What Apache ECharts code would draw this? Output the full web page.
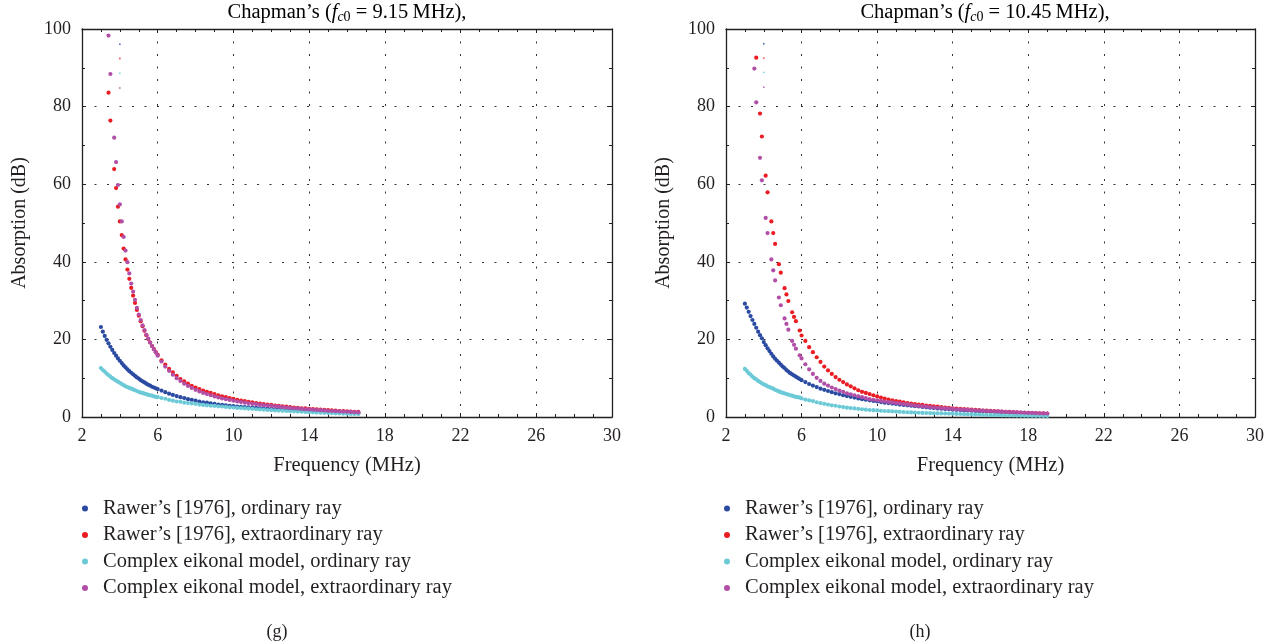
<!DOCTYPE html>
<html><head><meta charset="utf-8">
<script src="https://cdn.jsdelivr.net/npm/echarts@6/dist/echarts.min.js"></script>
<style>html,body{margin:0;padding:0;background:#fff}#c{width:1276px;height:642px}</style>
</head><body><div id="c"></div>
<script>
// ---------- data ----------
const seriesNames = ['Rawer’s [1976], ordinary ray','Rawer’s [1976], extraordinary ray','Complex eikonal model, ordinary ray','Complex eikonal model, extraordinary ray'];
const panelTitlesFc0 = ['9.15', '10.45'];
const panelCaptions = ['(g)', '(h)'];
const xAxisName = 'Frequency (MHz)';
const yAxisName = 'Absorption (dB)';

// panel (g)
const freqG = [3.0,3.1,3.2,3.3,3.4,3.5,3.6,3.7,3.8,3.9,
  4.0,4.1,4.2,4.3,4.4,4.5,4.6,4.7,4.8,4.9,
  5.0,5.1,5.2,5.3,5.4,5.5,5.6,5.7,5.8,5.9,
  6.0,6.2,6.4,6.6,6.8,7.0,7.2,7.4,7.6,7.8,
  8.0,8.2,8.4,8.6,8.8,9.0,9.2,9.4,9.6,9.8,
  10.0,10.2,10.4,10.6,10.8,11.0,11.2,11.4,11.6,11.8,
  12.0,12.2,12.4,12.6,12.8,13.0,13.2,13.4,13.6,13.8,
  14.0,14.2,14.4,14.6,14.8,15.0,15.2,15.4,15.6,15.8,
  16.0,16.2,16.4,16.6];
const rawerOrdG = [23.2,22.0,20.9,19.9,19.0,18.1,17.3,16.5,15.8,15.1,
  14.5,13.9,13.3,12.8,12.3,11.8,11.4,11.0,10.6,10.2,
  9.9,9.5,9.2,8.9,8.6,8.3,8.1,7.8,7.6,7.4,
  7.2,6.8,6.4,6.0,5.7,5.4,5.1,4.9,4.6,4.4,
  4.2,4.0,3.8,3.7,3.5,3.4,3.2,3.1,3.0,2.9,
  2.8,2.7,2.6,2.55,2.5,2.4,2.35,2.3,2.2,2.15,
  2.1,2.0,1.95,1.9,1.85,1.8,1.75,1.7,1.65,1.6,
  1.55,1.5,1.45,1.4,1.35,1.3,1.28,1.25,1.2,1.15,
  1.1,1.05,1.02,1.0];
const rawerExtG = [null,null,null,null,83.6,76.4,null,63.9,59.0,54.2,
  50.4,46.9,43.4,40.6,38.0,35.6,33.3,31.3,29.4,27.6,
  26.1,24.7,23.4,22.2,21.1,20.1,19.2,18.3,17.5,16.7,
  16.0,14.6,13.5,12.4,11.5,10.6,9.8,9.2,8.6,8.0,
  7.6,7.2,6.8,6.5,6.2,5.9,5.6,5.35,5.1,4.85,
  4.65,4.45,4.25,4.1,3.9,3.75,3.6,3.45,3.3,3.2,
  3.1,2.95,2.85,2.75,2.65,2.55,2.45,2.35,2.25,2.2,
  2.1,2.05,1.95,1.9,1.85,1.8,1.7,1.65,1.55,1.5,
  1.45,1.4,1.35,1.3];
const eikOrdG = [12.6,12.1,11.7,11.2,10.8,10.4,10.0,9.7,9.4,9.1,
  8.8,8.5,8.2,7.9,7.7,7.5,7.3,7.1,6.9,6.7,
  6.5,6.3,6.2,6.0,5.9,5.7,5.6,5.5,5.3,5.2,
  5.1,4.9,4.7,4.4,4.2,4.0,3.9,3.7,3.6,3.5,
  3.4,3.2,3.1,3.0,2.9,2.85,2.75,2.7,2.6,2.5,
  2.45,2.35,2.3,2.2,2.15,2.1,2.0,1.95,1.9,1.8,
  1.75,1.7,1.65,1.6,1.55,1.5,1.45,1.4,1.35,1.3,
  1.25,1.2,1.15,1.1,1.07,1.03,1.0,0.95,0.92,0.88,
  0.85,0.8,0.78,0.75];
const eikExtG = [null,null,null,null,98.3,88.4,null,72.0,65.7,59.8,
  54.8,50.4,46.4,42.9,39.9,37.0,34.4,32.3,30.2,28.1,
  26.4,25.0,23.6,22.4,21.2,20.2,19.2,18.3,17.4,16.6,
  15.8,14.3,13.0,11.9,10.9,10.0,9.3,8.6,8.0,7.5,
  7.0,6.6,6.2,5.9,5.6,5.3,5.05,4.8,4.6,4.4,
  4.2,4.0,3.85,3.7,3.55,3.4,3.3,3.15,3.05,2.95,
  2.85,2.75,2.65,2.55,2.45,2.35,2.25,2.2,2.1,2.0,
  1.95,1.9,1.8,1.75,1.7,1.6,1.55,1.5,1.45,1.4,
  1.35,1.3,1.25,1.2];
// tiny stray marks near the top-left of each panel (one per series)
const insetFreqG = [4.0,4.0,4.0,4.0];
const insetValsG = [96.1,92.4,88.6,84.8];

// panel (h)
const freqH = [3.0,3.1,3.2,3.3,3.4,3.5,3.6,3.7,3.8,3.9,
  4.0,4.1,4.2,4.3,4.4,4.5,4.6,4.7,4.8,4.9,
  5.0,5.1,5.2,5.3,5.4,5.5,5.6,5.7,5.8,5.9,
  6.0,6.2,6.4,6.6,6.8,7.0,7.2,7.4,7.6,7.8,
  8.0,8.2,8.4,8.6,8.8,9.0,9.2,9.4,9.6,9.8,
  10.0,10.2,10.4,10.6,10.8,11.0,11.2,11.4,11.6,11.8,
  12.0,12.2,12.4,12.6,12.8,13.0,13.2,13.4,13.6,13.8,
  14.0,14.2,14.4,14.6,14.8,15.0,15.2,15.4,15.6,15.8,
  16.0,16.2,16.4,16.6,16.8,17.0,17.2,17.4,17.6,17.8,
  18.0,18.2,18.4,18.6,18.8,19.0];
const rawerOrdH = [29.2,28.2,27.1,26.0,25.0,24.0,23.0,22.0,21.1,20.3,
  19.3,18.5,17.7,17.0,16.3,15.6,15.0,14.5,14.0,13.5,
  13.0,12.6,12.1,11.7,11.3,11.0,10.7,10.4,10.1,9.8,
  9.5,9.0,8.5,8.1,7.7,7.3,7.0,6.7,6.4,6.1,
  5.9,5.6,5.4,5.2,5.0,4.8,4.6,4.45,4.3,4.15,
  4.0,3.85,3.7,3.6,3.45,3.35,3.2,3.1,3.0,2.9,
  2.8,2.7,2.6,2.5,2.4,2.3,2.2,2.15,2.05,2.0,
  1.9,1.85,1.8,1.7,1.65,1.6,1.55,1.5,1.45,1.4,
  1.35,1.3,1.25,1.2,1.15,1.1,1.07,1.03,1.0,0.97,
  0.94,0.9,0.87,0.84,0.82,0.8];
const rawerExtH = [null,null,null,null,null,null,92.6,null,78.2,72.3,
  null,62.2,57.9,null,50.4,47.4,44.6,null,39.4,37.2,
  null,33.2,31.6,29.9,null,27.0,25.8,24.7,null,22.3,
  21.0,19.6,18.0,16.7,15.4,14.2,13.0,12.0,11.1,10.3,
  9.6,9.0,8.4,7.9,7.4,6.9,6.5,6.2,5.9,5.6,
  5.3,5.0,4.75,4.5,4.3,4.1,3.95,3.8,3.6,3.45,
  3.3,3.2,3.1,2.95,2.85,2.75,2.65,2.55,2.45,2.35,
  2.25,2.18,2.1,2.02,1.95,1.88,1.82,1.75,1.68,1.62,
  1.56,1.5,1.45,1.4,1.35,1.3,1.25,1.2,1.15,1.1,
  1.06,1.02,0.98,0.95,0.92,0.9];
const eikOrdH = [12.4,11.9,11.3,10.9,10.4,10.0,9.7,9.3,9.0,8.7,
  8.4,8.2,7.9,7.7,7.5,7.3,7.0,6.8,6.6,6.4,
  6.2,6.1,5.9,5.8,5.6,5.5,5.3,5.2,5.1,5.0,
  4.8,4.5,4.3,4.1,3.8,3.6,3.4,3.2,3.0,2.9,
  2.7,2.55,2.4,2.3,2.2,2.1,2.0,1.9,1.8,1.75,
  1.7,1.6,1.55,1.5,1.45,1.4,1.33,1.28,1.22,1.18,
  1.14,1.1,1.06,1.03,1.0,0.97,0.94,0.92,0.9,0.87,
  0.84,0.8,0.77,0.73,0.7,0.66,0.63,0.6,0.56,0.52,
  0.5,0.48,0.46,0.44,0.42,0.4,0.39,0.37,0.36,0.34,
  0.33,0.31,0.3,0.29,0.28,0.27];
const eikExtH = [null,null,null,null,null,89.8,81.1,null,66.8,61.0,
  null,51.3,47.4,null,40.6,37.8,35.2,null,30.8,28.8,
  null,25.4,24.0,22.5,null,19.6,18.6,17.6,null,15.9,
  15.1,13.6,12.3,11.1,10.1,9.3,8.6,8.1,7.6,7.2,
  6.8,6.5,6.1,5.85,5.6,5.35,5.1,4.85,4.6,4.45,
  4.3,4.15,4.0,3.85,3.75,3.6,3.5,3.35,3.25,3.1,
  2.95,2.85,2.75,2.65,2.55,2.45,2.38,2.3,2.22,2.15,
  2.08,2.0,1.95,1.88,1.82,1.77,1.72,1.67,1.62,1.58,
  1.53,1.48,1.43,1.38,1.33,1.28,1.24,1.2,1.16,1.12,
  1.08,1.04,1.0,0.96,0.93,0.9];
const insetFreqH = [4.0,4.0,4.0,4.0];
const insetValsH = [96.2,92.5,88.8,85.0];

// ---------- styles ----------
const FONT = 'Liberation Serif';
const INK = '#231f20';
const COLORS = ['#2b4ba2', '#ec1c24', '#6ccad7', '#b14fa7'];

function pairs(fr, vals) {
  const out = [];
  for (let i = 0; i < fr.length; i++) if (vals[i] != null) out.push([fr[i], vals[i]]);
  return out;
}

const panels = [
  {fr: freqG, vals: [rawerOrdG, rawerExtG, eikOrdG, eikExtG], insF: insetFreqG, insV: insetValsG},
  {fr: freqH, vals: [rawerOrdH, rawerExtH, eikOrdH, eikExtH], insF: insetFreqH, insV: insetValsH}
];

const grids = [
  {left: 82, top: 29, width: 530, height: 388},
  {left: 726, top: 29, width: 529, height: 388}
];

const dotted = {type: [2, 10.5], color: '#333', width: 1};
const axLine = {show: true, onZero: false, lineStyle: {color: INK, width: 1.3}};
const tick = {show: true, inside: true, length: 4, lineStyle: {color: INK}};

const xAxes = [], yAxes = [], series = [];
panels.forEach((p, gi) => {
  xAxes.push({gridIndex: gi, type: 'value', min: 2, max: 30, interval: 4, position: 'bottom',
    name: xAxisName, nameLocation: 'middle', nameGap: 38,
    nameTextStyle: {fontFamily: FONT, fontSize: 20.5, color: INK},
    axisLine: axLine, axisTick: tick,
    minorTick: {show: true, splitNumber: 4, length: 3, lineStyle: {color: INK}},
    axisLabel: {fontFamily: FONT, fontSize: 18, color: INK, margin: 10},
    splitLine: {show: true, lineStyle: dotted}});
  xAxes.push({gridIndex: gi, type: 'value', min: 2, max: 30, interval: 4, position: 'top',
    axisLine: axLine, axisTick: tick,
    minorTick: {show: true, splitNumber: 4, length: 3, lineStyle: {color: INK}},
    axisLabel: {show: false}, splitLine: {show: false}});
  yAxes.push({gridIndex: gi, type: 'value', min: 0, max: 100, interval: 20, position: 'left',
    name: yAxisName, nameLocation: 'middle', nameGap: 52,
    nameTextStyle: {fontFamily: FONT, fontSize: 20, color: INK},
    axisLine: axLine, axisTick: tick,
    minorTick: {show: true, splitNumber: 2, length: 3, lineStyle: {color: INK}},
    axisLabel: {fontFamily: FONT, fontSize: 18, color: INK, margin: 11},
    splitLine: {show: true, lineStyle: dotted}});
  yAxes.push({gridIndex: gi, type: 'value', min: 0, max: 100, interval: 20, position: 'right',
    axisLine: axLine, axisTick: tick,
    minorTick: {show: true, splitNumber: 2, length: 3, lineStyle: {color: INK}},
    axisLabel: {show: false}, splitLine: {show: false}});
  p.vals.forEach((v, si) => {
    series.push({type: 'scatter', name: seriesNames[si], xAxisIndex: gi * 2, yAxisIndex: gi * 2,
      data: pairs(p.fr, v), symbol: 'circle', symbolSize: 4.2,
      itemStyle: {color: COLORS[si], opacity: 1}, silent: true});
  });
  p.insF.forEach((f, si) => {
    series.push({type: 'scatter', name: 'inset' + gi + '_' + si, xAxisIndex: gi * 2, yAxisIndex: gi * 2,
      data: [[f, p.insV[si]]], symbol: 'circle', symbolSize: 1.8,
      itemStyle: {color: COLORS[si]}, silent: true});
  });
});

function titleText(fc) {
  return '{n|Chapman’s (}{i|f}{si|c}{s|0}{n| = ' + fc + '\u2009MHz),}';
}
const titleRich = {
  n: {fontFamily: FONT, fontSize: 20.5, color: INK},
  i: {fontFamily: FONT, fontSize: 20.5, fontStyle: 'italic', color: INK},
  si: {fontFamily: FONT, fontSize: 14, fontStyle: 'italic', color: INK, padding: [9, 0, 0, 0]},
  s: {fontFamily: FONT, fontSize: 14, color: INK, padding: [9, 0, 0, 0]}
};

const legendBase = {orient: 'vertical', icon: 'circle', itemWidth: 26, itemHeight: 6, itemGap: 5.5,
  selectedMode: false, data: seriesNames,
  textStyle: {fontFamily: FONT, fontSize: 20.5, color: INK, lineHeight: 20}};

const option = {
  animation: false,
  backgroundColor: '#fff',
  grid: grids,
  xAxis: xAxes,
  yAxis: yAxes,
  legend: [Object.assign({left: 77, top: 493}, legendBase), Object.assign({left: 719, top: 493}, legendBase)],
  graphic: [
    {type: 'text', x: 347, y: 13, style: {text: titleText(panelTitlesFc0[0]), rich: titleRich, align: 'center', verticalAlign: 'middle'}},
    {type: 'text', x: 985, y: 13, style: {text: titleText(panelTitlesFc0[1]), rich: titleRich, align: 'center', verticalAlign: 'middle'}},
    {type: 'text', x: 277, y: 632, style: {text: panelCaptions[0], fontFamily: FONT, fontSize: 18, fill: INK, align: 'center', verticalAlign: 'middle'}},
    {type: 'text', x: 920, y: 632, style: {text: panelCaptions[1], fontFamily: FONT, fontSize: 18, fill: INK, align: 'center', verticalAlign: 'middle'}}
  ],
  series: series
};
const chart = echarts.init(document.getElementById('c'), null, {renderer: 'canvas'});
chart.setOption(option);
</script>
</body></html>
